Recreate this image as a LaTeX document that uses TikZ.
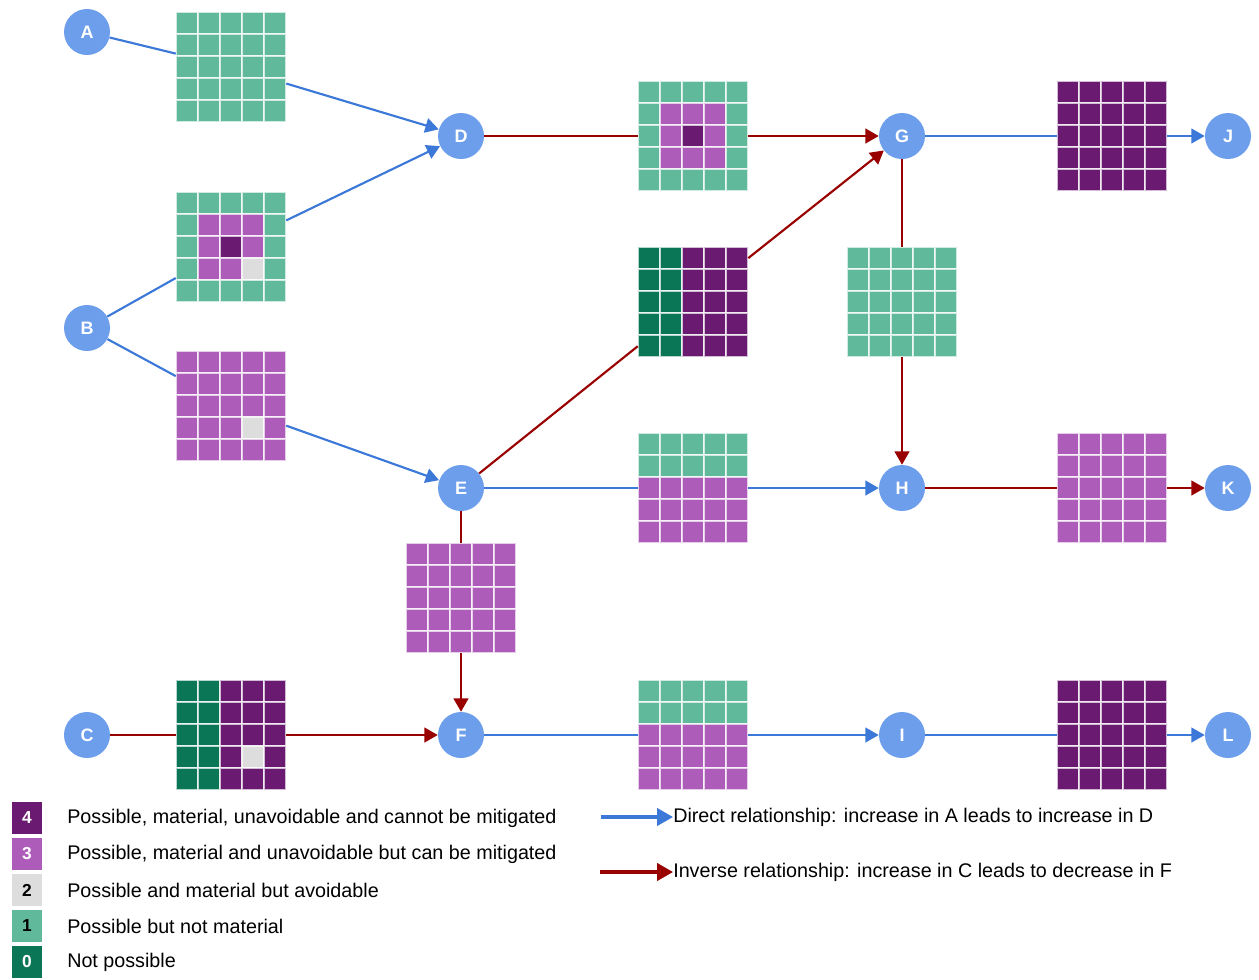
\documentclass[tikz,border=0pt]{standalone}
\usepackage{fontspec}
\setmainfont{Liberation Sans}
\usepackage{tikz}
\usetikzlibrary{
    arrows.meta
}
\definecolor{varblue}{HTML}{6D9EEB}
\definecolor{linkblue}{HTML}{3C78D8}
\definecolor{linkred}{HTML}{990000}
\definecolor{lvl4}{HTML}{6A1B71}
\definecolor{lvl3}{HTML}{AD5DB9}
\definecolor{lvl2}{HTML}{DDDDDD}
\definecolor{lvl1}{HTML}{60B99A}
\definecolor{lvl0}{HTML}{0A7655}
\tikzset{
    % Variable circle
    varnode/.style={
        circle,
        fill=varblue,
        text=white,
        font=\fontsize{13.5}{15}\selectfont\bfseries,
        minimum size=34.5pt,
        inner sep=0pt
    },
    % Frame of a 5x5 grid (not drawn, links end on it)
    gridframe/.style={
        rectangle,
        minimum size=82.5pt,
        inner sep=0pt
    },
    % One cell of a grid
    gridcell/.style={
        draw=white,
        draw opacity=0.7,
        line width=1.1pt
    },
    % Plain link segments
    directline/.style={
        line width=1.6pt,
        color=linkblue
    },
    inverseline/.style={
        line width=1.6pt,
        color=linkred
    },
    % Link segments with arrow
    directlink/.style={
        directline,
        -{Triangle[length=10pt,width=11pt]}
    },
    inverselink/.style={
        inverseline,
        -{Triangle[length=10pt,width=11pt]}
    },
    % Legend arrows
    keyarrow/.style={
        line width=2.4pt,
        -{Triangle[length=12pt,width=13pt]}
    },
    % Legend key box
    keybox/.style={
        rectangle,
        minimum width=23pt,
        minimum height=24pt,
        inner sep=0pt,
        font=\fontsize{13}{15}\selectfont\bfseries
    },
    % Legend text
    keytext/.style={
        anchor=west,
        inner sep=0pt,
        font=\fontsize{14.8}{17}\selectfont
    }
}
% #1 name, #2 centre, #3 the five rows of levels
\newcommand{\riskgrid}[3]{%
    \node[gridframe] (#1) at (#2) {};
    \begin{scope}[shift={(#2)}]
        \foreach \cells [count=\r from 0] in {#3} {
            \foreach \lvl [count=\k from 0] in \cells {
                \path[gridcell, fill=lvl\lvl] (-55+22*\k, -55+22*\r) rectangle ++(22,22);
            }
        }
    \end{scope}
}

\begin{document}
\begin{tikzpicture}[x=0.75pt, y=-0.75pt]
    \useasboundingbox (0,0) rectangle (1259,979);

    % Variables
    \node[varnode] (A) at (87,32) {A};
    \node[varnode] (B) at (87,328) {B};
    \node[varnode] (C) at (87,735) {C};
    \node[varnode] (D) at (461,136) {D};
    \node[varnode] (E) at (461,488) {E};
    \node[varnode] (F) at (461,735) {F};
    \node[varnode] (G) at (902,136) {G};
    \node[varnode] (H) at (902,488) {H};
    \node[varnode] (I) at (902,735) {I};
    \node[varnode] (J) at (1228,136) {J};
    \node[varnode] (K) at (1228,488) {K};
    \node[varnode] (L) at (1228,735) {L};

    % Grids
    \riskgrid{gAD}{231,67}{{1,1,1,1,1},{1,1,1,1,1},{1,1,1,1,1},{1,1,1,1,1},{1,1,1,1,1}}
    \riskgrid{gBD}{231,247}{{1,1,1,1,1},{1,3,3,3,1},{1,3,4,3,1},{1,3,3,2,1},{1,1,1,1,1}}
    \riskgrid{gBE}{231,406}{{3,3,3,3,3},{3,3,3,3,3},{3,3,3,3,3},{3,3,3,2,3},{3,3,3,3,3}}
    \riskgrid{gCF}{231,735}{{0,0,4,4,4},{0,0,4,4,4},{0,0,4,4,4},{0,0,4,2,4},{0,0,4,4,4}}
    \riskgrid{gDG}{693,136}{{1,1,1,1,1},{1,3,3,3,1},{1,3,4,3,1},{1,3,3,3,1},{1,1,1,1,1}}
    \riskgrid{gEG}{693,302}{{0,0,4,4,4},{0,0,4,4,4},{0,0,4,4,4},{0,0,4,4,4},{0,0,4,4,4}}
    \riskgrid{gEH}{693,488}{{1,1,1,1,1},{1,1,1,1,1},{3,3,3,3,3},{3,3,3,3,3},{3,3,3,3,3}}
    \riskgrid{gEF}{461,598}{{3,3,3,3,3},{3,3,3,3,3},{3,3,3,3,3},{3,3,3,3,3},{3,3,3,3,3}}
    \riskgrid{gFI}{693,735}{{1,1,1,1,1},{1,1,1,1,1},{3,3,3,3,3},{3,3,3,3,3},{3,3,3,3,3}}
    \riskgrid{gGH}{902,302}{{1,1,1,1,1},{1,1,1,1,1},{1,1,1,1,1},{1,1,1,1,1},{1,1,1,1,1}}
    \riskgrid{gGJ}{1112,136}{{4,4,4,4,4},{4,4,4,4,4},{4,4,4,4,4},{4,4,4,4,4},{4,4,4,4,4}}
    \riskgrid{gHK}{1112,488}{{3,3,3,3,3},{3,3,3,3,3},{3,3,3,3,3},{3,3,3,3,3},{3,3,3,3,3}}
    \riskgrid{gIL}{1112,735}{{4,4,4,4,4},{4,4,4,4,4},{4,4,4,4,4},{4,4,4,4,4},{4,4,4,4,4}}

    % Direct links
    \draw[directline] (A) -- (gAD);
    \draw[directlink] (gAD) -- (D);
    \draw[directline] (B) -- (gBD);
    \draw[directlink] (gBD) -- (D);
    \draw[directline] (B) -- (gBE);
    \draw[directlink] (gBE) -- (E);
    \draw[directline] (E) -- (gEH);
    \draw[directlink] (gEH) -- (H);
    \draw[directline] (F) -- (gFI);
    \draw[directlink] (gFI) -- (I);
    \draw[directline] (I) -- (gIL);
    \draw[directlink] (gIL) -- (L);
    \draw[directline] (G) -- (gGJ);
    \draw[directlink] (gGJ) -- (J);

    % Inverse links
    \draw[inverseline] (C) -- (gCF);
    \draw[inverselink] (gCF) -- (F);
    \draw[inverseline] (D) -- (gDG);
    \draw[inverselink] (gDG) -- (G);
    \draw[inverseline] (E) -- (gEG);
    \draw[inverselink] (gEG) -- (G);
    \draw[inverseline] (E) -- (gEF);
    \draw[inverselink] (gEF) -- (F);
    \draw[inverseline] (G) -- (gGH);
    \draw[inverselink] (gGH) -- (H);
    \draw[inverseline] (H) -- (gHK);
    \draw[inverselink] (gHK) -- (K);

    % Legend of levels
    \node[keybox, fill=lvl4, text=white] (k4) at (27,818) {4};
    \node[keybox, fill=lvl3, text=white] (k3) at (27,854) {3};
    \node[keybox, fill=lvl2, text=black] (k2) at (27,890) {2};
    \node[keybox, fill=lvl1, text=black] (k1) at (27,926) {1};
    \node[keybox, fill=lvl0, text=white] (k0) at (27,962) {0};
    \node[keytext] (t4) at (67,818) {Possible, material, unavoidable and cannot be mitigated};
    \node[keytext] (t3) at (67,854) {Possible, material and unavoidable but can be mitigated};
    \node[keytext] (t2) at (67,890) {Possible and material but avoidable};
    \node[keytext] (t1) at (67,926) {Possible but not material};
    \node[keytext] (t0) at (67,962) {Not possible};

    % Legend of links
    \coordinate (dirstart) at (601,817);
    \coordinate (invstart) at (600,872);
    \node[keytext] (dirtext) at (673,817) {Direct relationship: increase in A leads to increase in D};
    \node[keytext] (invtext) at (673,872) {Inverse relationship: increase in C leads to decrease in F};
    \draw[keyarrow, color=linkblue] (dirstart) -- (dirtext.west);
    \draw[keyarrow, color=linkred] (invstart) -- (invtext.west);

\end{tikzpicture}
\end{document}
